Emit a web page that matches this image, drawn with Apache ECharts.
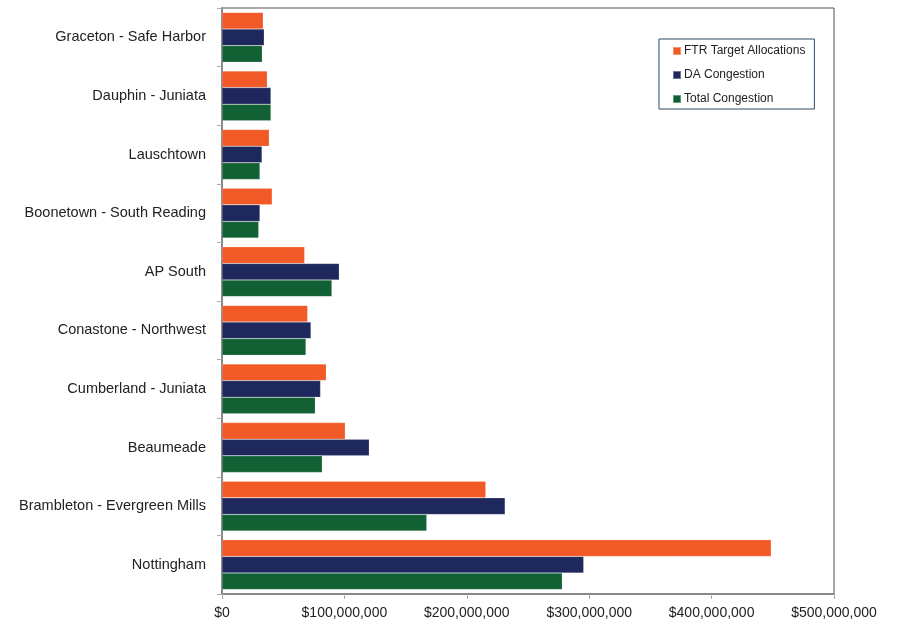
<!DOCTYPE html>
<html>
<head>
<meta charset="utf-8">
<script src="https://cdn.jsdelivr.net/npm/echarts@6/dist/echarts.min.js"></script>
<style>
  html, body { margin: 0; padding: 0; background: #fff; }
  #chart { width: 903px; height: 626px; }
</style>
</head>
<body>
<div id="chart"></div>
<script>
// Constraint names, listed top to bottom
const categories = [
  'Graceton - Safe Harbor',
  'Dauphin - Juniata',
  'Lauschtown',
  'Boonetown - South Reading',
  'AP South',
  'Conastone - Northwest',
  'Cumberland - Juniata',
  'Beaumeade',
  'Brambleton - Evergreen Mills',
  'Nottingham'
];

// Dollar values per constraint
const ftrTargetAllocations = [33.7e6, 37e6, 38.6e6, 41e6, 67.5e6, 70e6, 85.2e6, 100.7e6, 215.5e6, 448.7e6];
const daCongestion         = [34.5e6, 40e6, 32.7e6, 31e6, 95.8e6, 72.7e6, 80.5e6, 120.3e6, 231.3e6, 295.5e6];
const totalCongestion      = [32.9e6, 40e6, 31e6, 30e6, 89.8e6, 68.6e6, 76.2e6, 81.9e6, 167.3e6, 278e6];

const seriesNames = ['FTR Target Allocations', 'DA Congestion', 'Total Congestion'];
const seriesColors = ['#f15a26', '#1f285c', '#126134'];

const fmtDollars = v => '$' + Math.round(v).toString().replace(/\B(?=(\d{3})+(?!\d))/g, ',');

const chart = echarts.init(document.getElementById('chart'), null, { renderer: 'canvas' });

const mkSeries = (name, data, color) => ({
  name,
  type: 'bar',
  data,
  barGap: '0%',
  barCategoryGap: '15%',
  itemStyle: { color, borderColor: 'rgba(255,255,255,0.35)', borderWidth: 0.5 },
  emphasis: { disabled: true },
  animation: false
});

chart.setOption({
  animation: false,
  backgroundColor: '#ffffff',
  textStyle: { fontFamily: 'Liberation Sans, Arial, sans-serif' },
  grid: {
    left: 222, right: 69, top: 8, bottom: 32,
    show: true, borderColor: '#555555', borderWidth: 1
  },
  legend: {
    orient: 'vertical',
    left: 659, top: 39,
    padding: [6, 9, 4, 13],
    itemGap: 12,
    itemWidth: 8, itemHeight: 8,
    icon: 'rect',
    backgroundColor: '#ffffff',
    borderColor: '#2f4a66',
    borderWidth: 1,
    textStyle: { fontSize: 12, color: '#222', fontFamily: 'Liberation Sans, Arial, sans-serif', padding: [0, 0, 0, -2] },
    data: seriesNames
  },
  xAxis: {
    type: 'value',
    min: 0, max: 500e6, interval: 100e6,
    axisLine: { show: true, lineStyle: { color: '#888', width: 2 } },
    axisTick: { show: true, length: 5, lineStyle: { color: '#aaa' } },
    splitLine: { show: false },
    axisLabel: { formatter: fmtDollars, fontSize: 14, color: '#222', margin: 12 }
  },
  yAxis: {
    type: 'category',
    inverse: true,
    data: categories,
    axisLine: { show: true, lineStyle: { color: '#888', width: 2 } },
    axisTick: { show: true, length: 5, lineStyle: { color: '#aaa' } },
    splitLine: { show: false },
    axisLabel: { fontSize: 14.5, color: '#222', margin: 16 }
  },
  series: [
    mkSeries(seriesNames[0], ftrTargetAllocations, seriesColors[0]),
    mkSeries(seriesNames[1], daCongestion, seriesColors[1]),
    mkSeries(seriesNames[2], totalCongestion, seriesColors[2])
  ]
});
</script>
</body>
</html>
